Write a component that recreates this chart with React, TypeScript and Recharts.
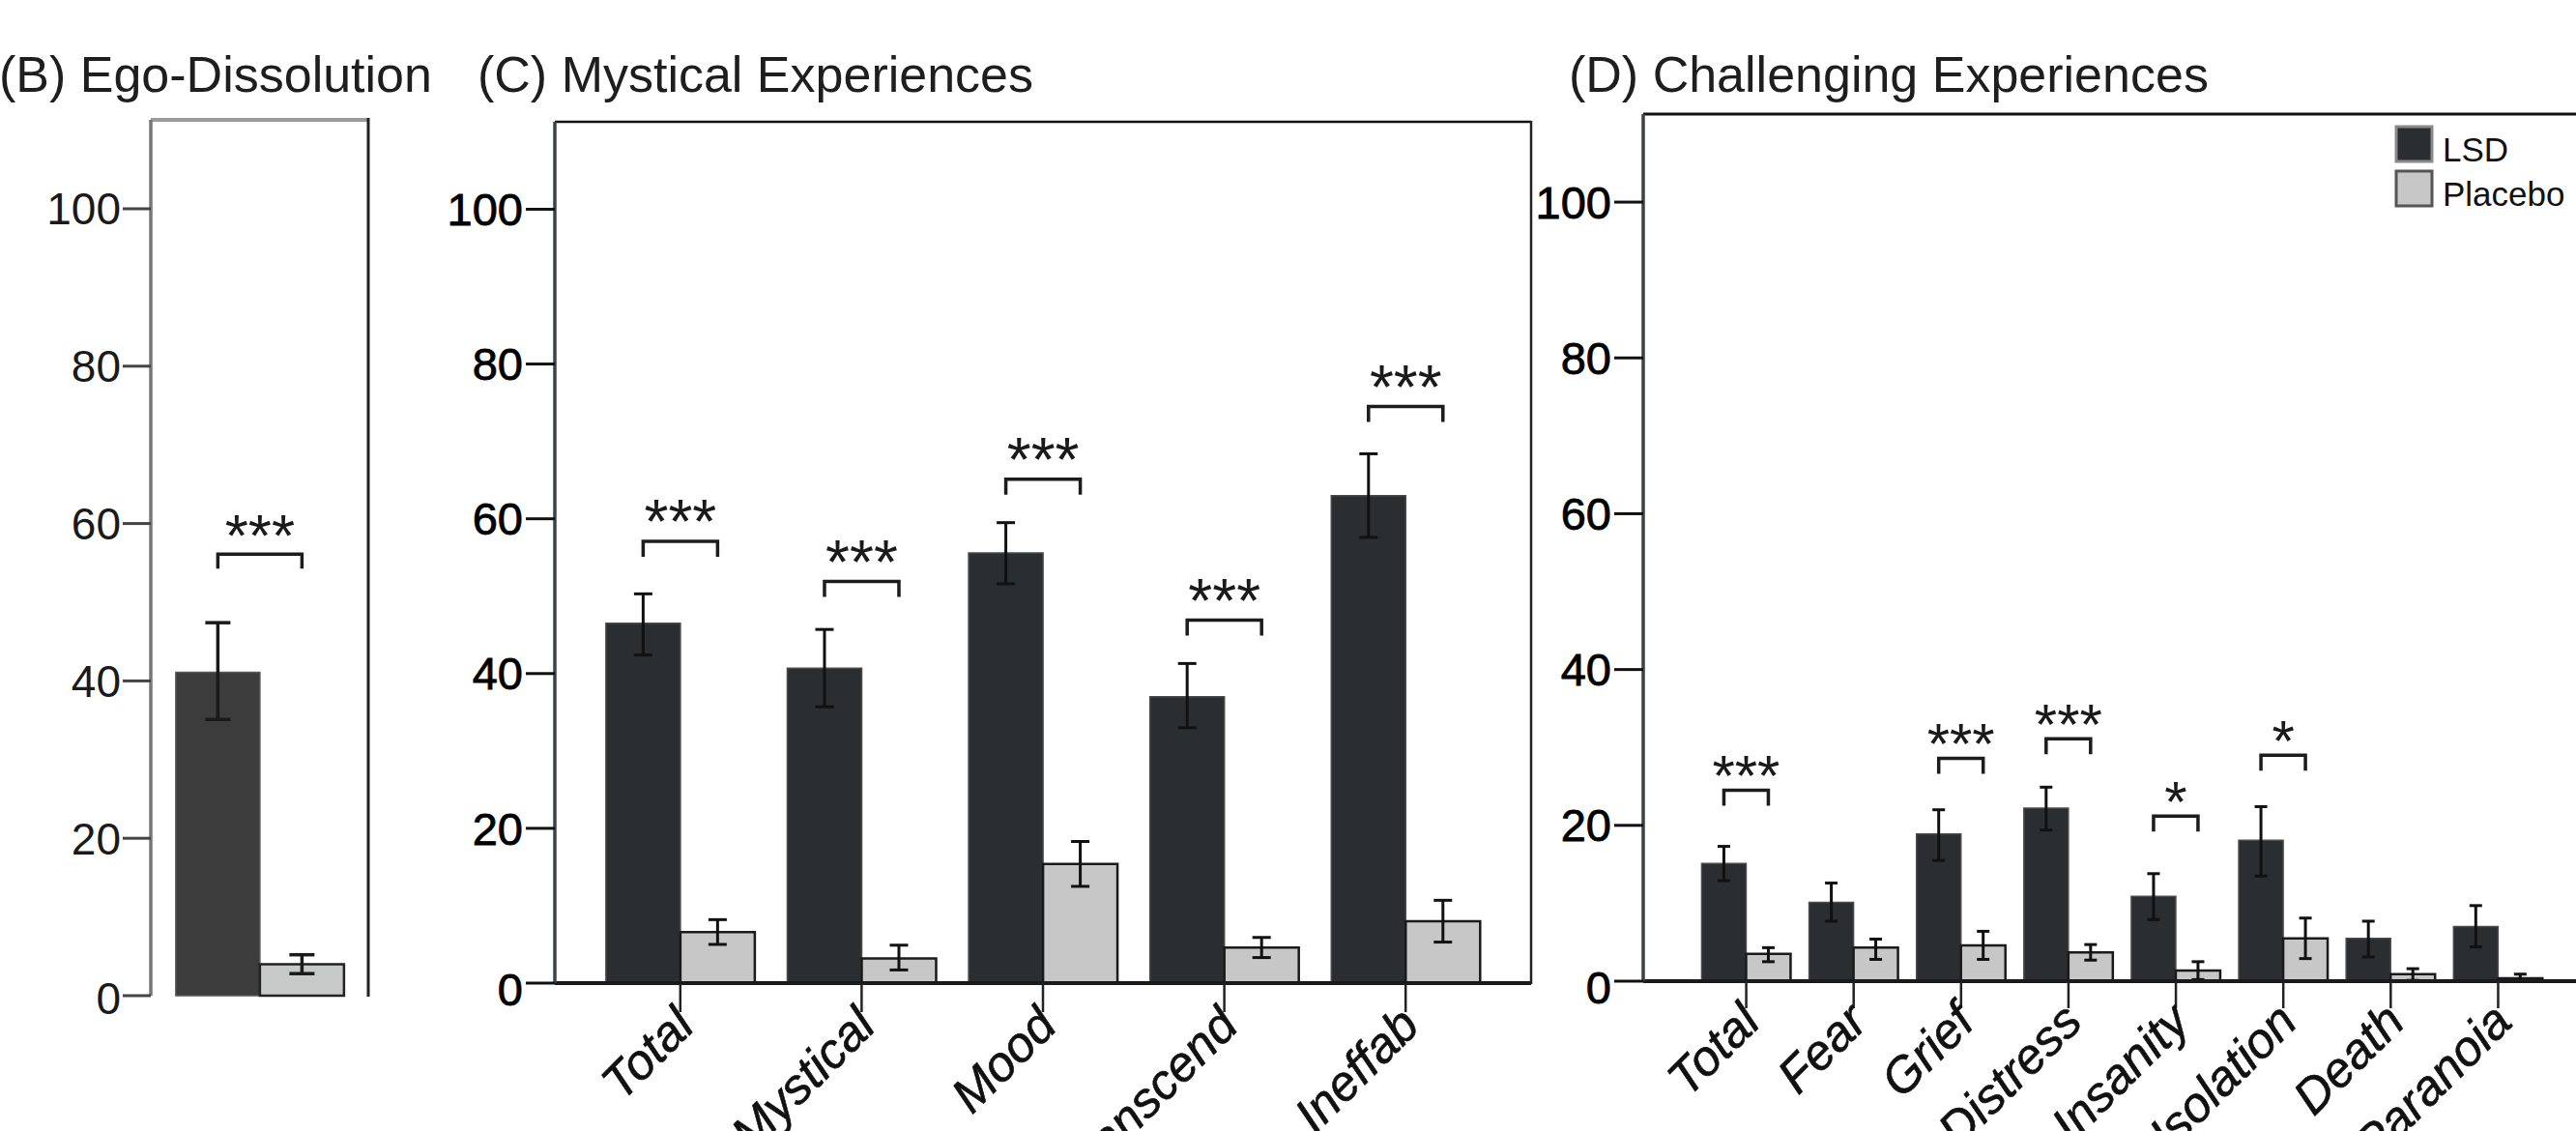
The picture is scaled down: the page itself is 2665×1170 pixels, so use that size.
import React from "react";
import {
  BarChart,
  Bar,
  XAxis,
  YAxis,
  ErrorBar,
  LabelList,
  ReferenceLine,
  Legend,
} from "recharts";

const FONT = '"Liberation Sans", Arial, Helvetica, sans-serif';
const Y_MAX = 111.3;
const Y_TICKS = [0, 20, 40, 60, 80, 100];

// (B) Ego-Dissolution
const egoCats = [""];
const egoLsd = [41.1];
const egoLsdLo = [35.1];
const egoLsdHi = [47.4];
const egoPlacebo = [4.0];
const egoPlaceboLo = [2.8];
const egoPlaceboHi = [5.2];
const egoStars = ["***"];
const egoBracket = [56.1];

// (C) Mystical Experiences
const mysticalCats = ["Total", "Mystical", "Mood", "Transcend", "Ineffab"];
const mysticalLsd = [46.5, 40.7, 55.6, 37.0, 63.0];
const mysticalLsdLo = [42.4, 35.7, 51.6, 33.0, 57.6];
const mysticalLsdHi = [50.3, 45.7, 59.5, 41.3, 68.4];
const mysticalPlacebo = [6.6, 3.2, 15.4, 4.6, 8.0];
const mysticalPlaceboLo = [5.0, 1.7, 12.5, 3.3, 5.3];
const mysticalPlaceboHi = [8.2, 4.9, 18.3, 5.9, 10.7];
const mysticalStars = ["***", "***", "***", "***", "***"];
const mysticalBracket = [57.1, 51.9, 65.1, 46.9, 74.5];

// (D) Challenging Experiences
const challengeCats = ["Total", "Fear", "Grief", "Distress", "Insanity", "Isolation", "Death", "Paranoia"];
const challengeLsd = [15.1, 10.1, 18.9, 22.2, 10.9, 18.1, 5.5, 7.0];
const challengeLsdLo = [12.9, 7.7, 15.5, 19.4, 7.9, 13.5, 3.1, 4.4];
const challengeLsdHi = [17.3, 12.6, 22.0, 24.9, 13.8, 22.4, 7.7, 9.7];
const challengePlacebo = [3.5, 4.3, 4.6, 3.7, 1.35, 5.5, 0.9, 0.36];
const challengePlaceboLo = [2.5, 2.8, 2.8, 2.7, 0.2, 2.9, 0.1, 0.0];
const challengePlaceboHi = [4.3, 5.4, 6.4, 4.7, 2.5, 8.1, 1.6, 0.9];
const challengeStars = ["***", "", "***", "***", "*", "*", "", ""];
const challengeBracket = [24.5, null, 28.6, 31.1, 21.2, 29.0, null, null];

function buildRows(
  cats: string[],
  lsd: number[],
  lsdLo: number[],
  lsdHi: number[],
  pla: number[],
  plaLo: number[],
  plaHi: number[],
  stars: string[],
  bracket: (number | null)[]
) {
  return cats.map((cat, i) => ({
    cat,
    lsd: lsd[i],
    lsdErr: [lsd[i] - lsdLo[i], lsdHi[i] - lsd[i]],
    placebo: pla[i],
    placeboErr: [pla[i] - plaLo[i], plaHi[i] - pla[i]],
    stars: stars[i],
    bracket: bracket[i],
  }));
}

const egoRows = buildRows(egoCats, egoLsd, egoLsdLo, egoLsdHi, egoPlacebo, egoPlaceboLo, egoPlaceboHi, egoStars, egoBracket);
const mysticalRows = buildRows(
  mysticalCats, mysticalLsd, mysticalLsdLo, mysticalLsdHi,
  mysticalPlacebo, mysticalPlaceboLo, mysticalPlaceboHi, mysticalStars, mysticalBracket
);
const challengeRows = buildRows(
  challengeCats, challengeLsd, challengeLsdLo, challengeLsdHi,
  challengePlacebo, challengePlaceboLo, challengePlaceboHi, challengeStars, challengeBracket
);

// significance bracket drawn over the LSD bar, spanning to the placebo bar centre
const makeBracket =
  (rows: any[], opts: { leg: number; gap: number; size: number }) => (p: any) => {
    const row = rows[p.index];
    if (!row || row.bracket == null) return null;
    const vb = p.viewBox ?? p;
    const { x, y, width, height } = vb;
    if (!height) return null;
    const base = y + height;
    const perUnit = height / row.lsd;
    const yb = base - row.bracket * perUnit;
    const x1 = x + width / 2;
    const x2 = x + width * 1.5;
    return (
      <g>
        <path
          d={`M${x1},${yb + opts.leg}V${yb}H${x2}V${yb + opts.leg}`}
          fill="none"
          stroke="#1c1c1c"
          strokeWidth={3.5}
        />
        <text
          x={(x1 + x2) / 2}
          y={yb - opts.gap + 0.44 * opts.size}
          textAnchor="middle"
          fontFamily={FONT}
          fontSize={opts.size}
          fill="#1a1a1a"
        >
          {row.stars}
        </text>
      </g>
    );
  };

const yTick = (size: number, fill: string, zeroDy: number, bold: number) => (p: any) => (
  <text
    x={p.x}
    y={p.y + (p.payload.value === 0 ? zeroDy : 0)}
    dy="0.355em"
    textAnchor="end"
    fontFamily={FONT}
    fontSize={size}
    fill={fill}
    stroke={bold ? fill : "none"}
    strokeWidth={bold}
  >
    {p.payload.value}
  </text>
);

const slantTick = (p: any) => (
  <g transform={`translate(${p.x + 4},${p.y + 2})`}>
    <text
      x={0}
      y={0}
      dy="0.35em"
      textAnchor="end"
      transform="rotate(-45)"
      fontFamily={FONT}
      fontStyle="italic"
      fontSize={51}
      fill="#111"
      stroke="#111"
      strokeWidth={0.6}
    >
      {p.payload.value}
    </text>
  </g>
);

const legendBorder: Record<string, string> = { LSD: "#8a8a8a", Placebo: "#555" };

const LegendBox = ({ payload }: any) => (
  <svg width={190} height={100} style={{ display: "block" }}>
    {(payload || []).map((e: any, i: number) => (
      <g key={e.value}>
        <rect
          x={4}
          y={4 + i * 46}
          width={37}
          height={36}
          fill={e.color}
          stroke={legendBorder[e.value] || "#555"}
          strokeWidth={3}
        />
        <text x={52} y={40 + i * 46} fontFamily={FONT} fontSize={35} fill="#111">
          {e.value}
        </text>
      </g>
    ))}
  </svg>
);

export default function App() {
  return (
    <div
      style={{
        position: "absolute",
        left: 0,
        top: 0,
        width: 2665,
        height: 1170,
        overflow: "hidden",
        background: "#fff",
      }}
    >
      {/* (B) */}
      <div style={{ position: "absolute", left: 0, top: 0 }}>
        <BarChart
          width={400}
          height={1170}
          data={egoRows}
          margin={{ top: 124, right: 19, bottom: 140, left: 0 }}
          barCategoryGap="11.5%"
          barGap={0}
        >
          <XAxis
            dataKey="cat"
            height={0}
            tick={false}
            tickLine={false}
            axisLine={{ stroke: "#333", strokeWidth: 3 }}
          />
          <YAxis
            width={156}
            domain={[0, Y_MAX]}
            ticks={Y_TICKS}
            tickSize={29}
            tickMargin={2}
            axisLine={{ stroke: "#777", strokeWidth: 3.5 }}
            tickLine={{ stroke: "#444", strokeWidth: 3 }}
            tick={yTick(46, "#1a1a1a", 3, 0)}
          />
          <ReferenceLine y={Y_MAX} stroke="#9a9a9a" strokeWidth={4} />
          <Bar dataKey="lsd" name="LSD" fill="#3c3c3c" stroke="#555" strokeWidth={1.5} isAnimationActive={false}>
            <ErrorBar dataKey="lsdErr" width={13} stroke="#1a1a1a" strokeWidth={3.5} isAnimationActive={false} />
            <LabelList dataKey="stars" content={makeBracket(egoRows, { leg: 15, gap: 26, size: 62 })} />
          </Bar>
          <Bar dataKey="placebo" name="Placebo" fill="#c8c9c9" stroke="#222" strokeWidth={2.5} isAnimationActive={false}>
            <ErrorBar dataKey="placeboErr" width={13} stroke="#1a1a1a" strokeWidth={3.5} isAnimationActive={false} />
          </Bar>
        </BarChart>
      </div>

      {/* (C) */}
      <div style={{ position: "absolute", left: 420, top: 0 }}>
        <BarChart
          width={1200}
          height={1170}
          data={mysticalRows}
          margin={{ top: 126, right: 36, bottom: 0, left: 0 }}
          barCategoryGap="9%"
          barGap={0}
        >
          <XAxis
            dataKey="cat"
            height={153}
            interval={0}
            padding={{ left: 36, right: 36 }}
            tickSize={30}
            axisLine={{ stroke: "#1a1a1a", strokeWidth: 4 }}
            tickLine={{ stroke: "#222", strokeWidth: 2.5 }}
            tick={slantTick}
          />
          <YAxis
            width={154}
            domain={[0, Y_MAX]}
            ticks={Y_TICKS}
            tickSize={30}
            tickMargin={3}
            axisLine={{ stroke: "#3d4247", strokeWidth: 3.5 }}
            tickLine={{ stroke: "#111", strokeWidth: 3 }}
            tick={yTick(47, "#000", 6, 0.8)}
          />
          <ReferenceLine y={Y_MAX} stroke="#111" strokeWidth={2.5} />
          <Bar dataKey="lsd" name="LSD" fill="#2b2e31" stroke="#4a4a4a" strokeWidth={1.5} isAnimationActive={false}>
            <ErrorBar dataKey="lsdErr" width={9.5} stroke="#111" strokeWidth={3} isAnimationActive={false} />
            <LabelList dataKey="stars" content={makeBracket(mysticalRows, { leg: 16, gap: 26, size: 64 })} />
          </Bar>
          <Bar dataKey="placebo" name="Placebo" fill="#c6c7c6" stroke="#1a1a1a" strokeWidth={2.5} isAnimationActive={false}>
            <ErrorBar dataKey="placeboErr" width={9.5} stroke="#111" strokeWidth={3} isAnimationActive={false} />
          </Bar>
        </BarChart>
      </div>

      {/* (D) */}
      <div style={{ position: "absolute", left: 1560, top: 0 }}>
        <BarChart
          width={1140}
          height={1170}
          data={challengeRows}
          margin={{ top: 118, right: 9, bottom: 0, left: 0 }}
          barCategoryGap="8.5%"
          barGap={0}
        >
          <XAxis
            dataKey="cat"
            height={155}
            interval={0}
            padding={{ left: 51, right: 51 }}
            tickSize={28}
            axisLine={{ stroke: "#1a1a1a", strokeWidth: 4 }}
            tickLine={{ stroke: "#222", strokeWidth: 2.5 }}
            tick={slantTick}
          />
          <YAxis
            width={140}
            domain={[0, Y_MAX]}
            ticks={Y_TICKS}
            tickSize={30}
            tickMargin={3}
            axisLine={{ stroke: "#3d4247", strokeWidth: 3.5 }}
            tickLine={{ stroke: "#111", strokeWidth: 3 }}
            tick={yTick(47, "#000", 6, 0.8)}
          />
          <ReferenceLine y={Y_MAX} stroke="#111" strokeWidth={3} />
          <Legend
            layout="vertical"
            align="center"
            verticalAlign="middle"
            wrapperStyle={{ left: 915, top: 127, width: 190, height: 100 }}
            content={<LegendBox />}
          />
          <Bar dataKey="lsd" name="LSD" fill="#2b2e31" stroke="#4a4a4a" strokeWidth={1.5} isAnimationActive={false}>
            <ErrorBar dataKey="lsdErr" width={6.5} stroke="#111" strokeWidth={3} isAnimationActive={false} />
            <LabelList dataKey="stars" content={makeBracket(challengeRows, { leg: 16, gap: 21, size: 60 })} />
          </Bar>
          <Bar dataKey="placebo" name="Placebo" fill="#c6c7c6" stroke="#1a1a1a" strokeWidth={2.5} isAnimationActive={false}>
            <ErrorBar dataKey="placeboErr" width={6.5} stroke="#111" strokeWidth={3} isAnimationActive={false} />
          </Bar>
        </BarChart>
      </div>

      {/* panel titles and the right-hand frame edges */}
      <svg
        width={2665}
        height={1170}
        style={{ position: "absolute", left: 0, top: 0, pointerEvents: "none" }}
      >
        <line x1={381} y1={122} x2={381} y2={1031} stroke="#222" strokeWidth={3} />
        <line x1={1584} y1={125} x2={1584} y2={1018} stroke="#222" strokeWidth={2.5} />
        <g fontFamily={FONT} fontSize={52} fill="#1e1e1e">
          <text x={-1} y={95}>(B) Ego-Dissolution</text>
          <text x={494} y={95}>(C) Mystical Experiences</text>
          <text x={1623} y={95}>(D) Challenging Experiences</text>
        </g>
      </svg>
    </div>
  );
}
